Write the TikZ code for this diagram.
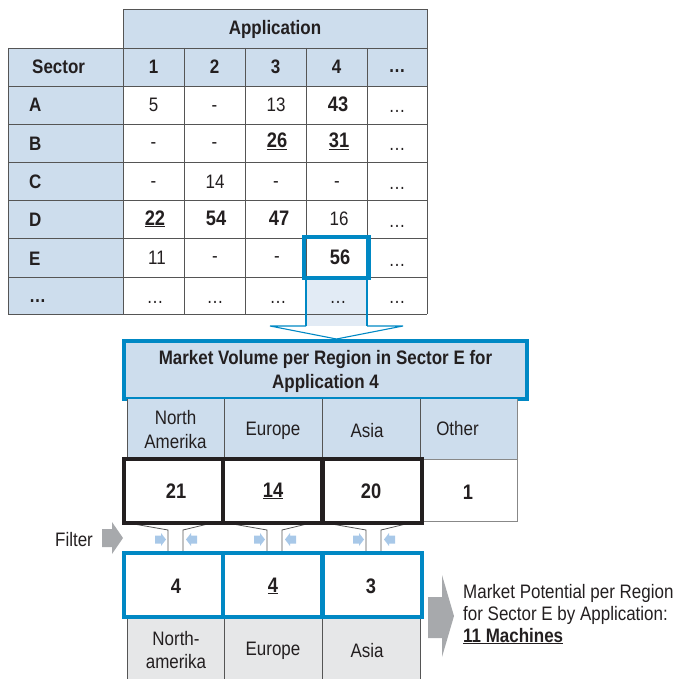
\documentclass[tikz,border=0pt]{standalone}
\usepackage{fontspec}
\setmainfont{Liberation Sans}[FakeStretch=0.87]
\definecolor{ink}{RGB}{35,31,32}
\definecolor{headblue}{RGB}{205,221,237}
\definecolor{paleblue}{RGB}{226,235,245}
\definecolor{strongblue}{RGB}{0,136,196}
\definecolor{gridgray}{RGB}{85,85,85}
\definecolor{rowgray}{RGB}{230,231,232}
\definecolor{arrowgray}{RGB}{167,169,172}
\definecolor{smallblue}{RGB}{168,200,232}
\begin{document}
\begin{tikzpicture}[x=1pt,y=-1pt,
  txt/.style={anchor=base,inner sep=0pt,text=ink,font=\fontsize{19.5}{22}\selectfont},
  btxt/.style={txt,font=\fontsize{19.5}{22}\selectfont\bfseries},
  bnum/.style={txt,font=\fontsize{21}{24}\selectfont\bfseries},
  ltxt/.style={txt,anchor=base west},
  lbtxt/.style={btxt,anchor=base west},
  grid/.style={draw=gridgray,line width=0.9pt},
  thinblue/.style={draw=strongblue,line width=1.1pt},
  thickblue/.style={draw=strongblue,line width=4.5pt},
  thickblack/.style={draw=ink,line width=4.5pt},
  funnel/.style={draw=gridgray,line width=0.8pt},
  blockgray/.style={fill=arrowgray,draw=none},
  blockblue/.style={fill=smallblue,draw=none}]
\useasboundingbox (0,0) rectangle (677,679);

% ---------- sector / application table ----------
\fill[headblue] (123,9) rectangle (427,48);
\fill[headblue] (8,48) rectangle (427,86);
\fill[headblue] (8,86) rectangle (123,314);
\fill[paleblue] (306,277) rectangle (367,326);
\draw[grid] (123,48) -- (123,9) -- (427,9) -- (427,48);
\foreach \yy in {48,86,124,162,200,238,277,314}
  \draw[grid] (8,\yy) -- (427,\yy);
\foreach \xx in {8,123,184,245,306,367,427}
  \draw[grid] (\xx,48) -- (\xx,314);

% selection flowing down out of column 4
\draw[thinblue] (306,277) -- (306,326);
\draw[thinblue] (367,277) -- (367,326);
\draw[thinblue,line join=miter] (306,326) -- (270,326) -- (336.5,339) -- (403,326) -- (367,326);
\draw[thickblue] (304,237) rectangle (368.5,278);

% header texts
\node[btxt] (app) at (275,35) {Application};
\node[lbtxt] (sec) at (32,74) {Sector};
\node[btxt] (h1) at (153.5,74) {1};
\node[btxt] (h2) at (214.5,74) {2};
\node[btxt] (h3) at (275.5,74) {3};
\node[btxt] (h4) at (336.5,74) {4};
\node[btxt] (h5) at (397,73) {…};

% sector labels
\node[lbtxt] (sa) at (29,112) {A};
\node[lbtxt] (sb) at (29,150) {B};
\node[lbtxt] (sc) at (29,188) {C};
\node[lbtxt] (sd) at (29,226) {D};
\node[lbtxt] (se) at (29,265) {E};
\node[lbtxt] (sx) at (29,302) {…};

% row A
\node[txt] (a1) at (153.5,112) {5};
\node[txt] (a2) at (214.5,112) {-};
\node[txt] (a3) at (276,112) {13};
\node[bnum] (a4) at (338,112) {43};
\node[txt] (a5) at (397,113) {…};
% row B
\node[txt] (b1) at (153.5,149) {-};
\node[txt] (b2) at (214.5,149) {-};
\node[bnum] (b3) at (277,148) {\underline{26}};
\node[bnum] (b4) at (339,148) {\underline{31}};
\node[txt] (b5) at (397,151) {…};
% row C
\node[txt] (c1) at (153.5,187) {-};
\node[txt] (c2) at (215,188) {14};
\node[txt] (c3) at (276,187) {-};
\node[txt] (c4) at (337,187) {-};
\node[txt] (c5) at (397,189) {…};
% row D
\node[bnum] (d1) at (155,225) {\underline{22}};
\node[bnum] (d2) at (216,225) {54};
\node[bnum] (d3) at (279,225) {47};
\node[txt] (d4) at (339,225) {16};
\node[txt] (d5) at (397,227) {…};
% row E
\node[txt] (e1) at (157,264) {11};
\node[txt] (e2) at (215,262) {-};
\node[txt] (e3) at (277,262) {-};
\node[bnum] (e4) at (340,264) {56};
\node[txt] (e5) at (397,266) {…};
% last row
\node[txt] (x1) at (155,303) {…};
\node[txt] (x2) at (215,303) {…};
\node[txt] (x3) at (278,303) {…};
\node[txt] (x4) at (338,303) {…};
\node[txt] (x5) at (397,303) {…};

% ---------- market volume block ----------
\fill[headblue] (124,341) rectangle (527,399);
\draw[thickblue] (124,341) rectangle (527,399);
\node[btxt] (mv1) at (325.5,364) {Market Volume per Region in Sector E for};
\node[btxt] (mv2) at (325.5,388) {Application 4};

\fill[headblue] (127,399) rectangle (517,459);
\foreach \xx in {127,224,322,420}
  \draw[grid] (\xx,399) -- (\xx,459);
\draw[draw=gridgray!70,line width=0.9pt] (517,399) -- (517,521) -- (420,521) -- (420,459) -- (517,459);

\node[txt] (rn1) at (175.5,424) {North};
\node[txt] (rn2) at (175.5,448) {Amerika};
\node[txt] (reu) at (273,435) {Europe};
\node[txt] (ras) at (367,437) {Asia};
\node[txt] (rot) at (457.5,435) {Other};

% filter funnels and small arrows
\foreach \L in {124,223,322} {
  \draw[funnel] ({\L+4},523) -- ({\L+44},530) -- ({\L+44},553);
  \draw[funnel] ({\L+88},523) -- ({\L+59},530) -- ({\L+59},553);
  \fill[blockblue] ({\L+31},535.5) -- ({\L+37},535.5) -- ({\L+37},533) -- ({\L+42},539.5)
     -- ({\L+37},546) -- ({\L+37},543.5) -- ({\L+31},543.5) -- cycle;
  \fill[blockblue] ({\L+73},535.5) -- ({\L+67},535.5) -- ({\L+67},533) -- ({\L+62},539.5)
     -- ({\L+67},546) -- ({\L+67},543.5) -- ({\L+73},543.5) -- cycle;
}

% volume values
\fill[white] (124,459) rectangle (422,523);
\draw[thickblack] (124,459) rectangle (422,523);
\draw[thickblack] (223,459) -- (223,523);
\draw[thickblack] (322.5,459) -- (322.5,523);
\node[bnum] (v1) at (176,498) {21};
\node[bnum] (v2) at (273,497) {\underline{14}};
\node[bnum] (v3) at (371,498) {20};
\node[bnum] (v4) at (468,499) {1};

% filter label and arrow
\node[ltxt] (flt) at (55,546) {Filter};
\fill[blockgray] (102,529) -- (112,529) -- (112,522) -- (123,538) -- (112,554)
  -- (112,547) -- (102,547) -- cycle;

% potential values
\fill[rowgray] (127,617) rectangle (420,682);
\foreach \xx in {127,224,322,420}
  \draw[grid] (\xx,617) -- (\xx,682);
\fill[white] (124,553) rectangle (422,617);
\draw[thickblue] (124,553) rectangle (422,617);
\draw[thickblue] (223,553) -- (223,617);
\draw[thickblue] (322.5,553) -- (322.5,617);
\node[bnum] (p1) at (176,593) {4};
\node[bnum] (p2) at (273,592) {\underline{4}};
\node[bnum] (p3) at (371,593) {3};

\node[txt] (g1) at (176,645) {North-};
\node[txt] (g2) at (176,668) {amerika};
\node[txt] (geu) at (273,655) {Europe};
\node[txt] (gas) at (367,657) {Asia};

% result arrow and statement
\fill[blockgray] (428,597) -- (442,597) -- (442,575) -- (454,616) -- (442,657)
  -- (442,638) -- (428,638) -- cycle;
\node[ltxt] (res1) at (463,598) {Market Potential per Region};
\node[ltxt] (res2) at (463,620) {for Sector E by Application:};
\node[lbtxt] (res3) at (463,642) {\underline{11 Machines}};
\end{tikzpicture}
\end{document}
